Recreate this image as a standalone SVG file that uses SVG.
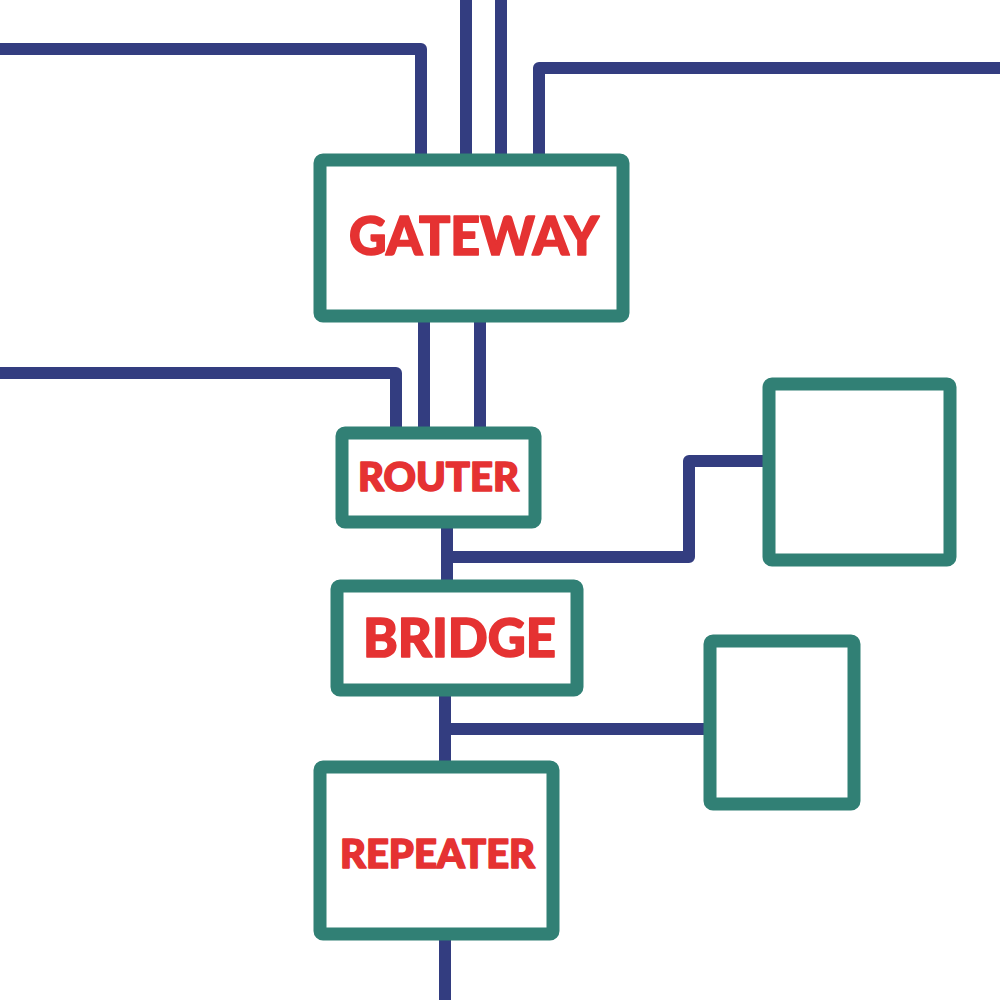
<svg xmlns="http://www.w3.org/2000/svg" width="1000" height="1000" viewBox="0 0 1000 1000">
<style>
.wire{fill:none;stroke:#333d80;stroke-width:12;stroke-linejoin:round;stroke-linecap:butt}
.box{fill:#fff;stroke:#318075;stroke-width:13;stroke-linejoin:round}
.lbl{fill:#e53232;stroke:#e53232;stroke-width:1.6;stroke-linejoin:round;font-family:Lato,"Liberation Sans",sans-serif;font-weight:900;text-anchor:middle}
</style>
<rect width="1000" height="1000" fill="#fff"/>
<g id="connectors">
<path class="wire" d="M0 49 H421 V160"/>
<path class="wire" d="M466 0 V160"/>
<path class="wire" d="M501 0 V160"/>
<path class="wire" d="M1000 68 H539 V160"/>
<path class="wire" d="M424 316 V433"/>
<path class="wire" d="M480 316 V433"/>
<path class="wire" d="M0 373 H396 V433"/>
<path class="wire" d="M447 522 V586"/>
<path class="wire" d="M447 557 H689 V461 H769"/>
<path class="wire" d="M445 690 V767"/>
<path class="wire" d="M445 729 H710"/>
<path class="wire" d="M445 934 V1000"/>
</g>
<g id="gateway">
<rect class="box" x="320" y="160" width="303" height="156" rx="3"/>
<text class="lbl" x="474" y="255" font-size="53" textLength="250" lengthAdjust="spacingAndGlyphs">GATEWAY</text>
</g>
<g id="router">
<rect class="box" x="342" y="433" width="193" height="89" rx="3"/>
<text class="lbl" x="438.5" y="491" font-size="40" textLength="161" lengthAdjust="spacingAndGlyphs">ROUTER</text>
</g>
<g id="bridge">
<rect class="box" x="337" y="586" width="240" height="104" rx="3"/>
<text class="lbl" x="459.5" y="657" font-size="54" textLength="193" lengthAdjust="spacingAndGlyphs">BRIDGE</text>
</g>
<g id="repeater">
<rect class="box" x="320" y="767" width="233" height="167" rx="3"/>
<text class="lbl" x="437.5" y="868" font-size="40" textLength="195" lengthAdjust="spacingAndGlyphs">REPEATER</text>
</g>
<g id="device1">
<rect class="box" x="769" y="384" width="181" height="176" rx="3"/>
</g>
<g id="device2">
<rect class="box" x="710" y="641" width="144" height="163" rx="3"/>
</g>
</svg>
